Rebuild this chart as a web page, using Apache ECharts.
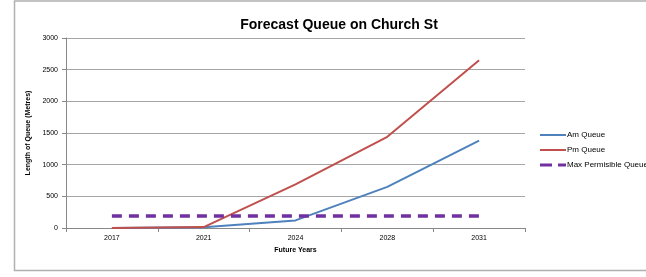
<!DOCTYPE html>
<html><head><meta charset="utf-8">
<script src="https://cdn.jsdelivr.net/npm/echarts@6/dist/echarts.min.js"></script>
<style>html,body{margin:0;padding:0;background:#fff}#c{width:646px;height:277px}</style>
</head><body><div id="c"></div>
<script>
const years = ['2017','2021','2024','2028','2031'];
const amQueue = [0, 10, 120, 650, 1380];
const pmQueue = [0, 15, 690, 1440, 2650];
const maxQueue = [190, 190, 190, 190, 190];
const yTicks = [0, 500, 1000, 1500, 2000, 2500, 3000];

const chart = echarts.init(document.getElementById('c'), null, {renderer:'canvas'});
const font = '"Liberation Sans", Arial, sans-serif';
chart.setOption({
  animation:false,
  title:{text:'Forecast Queue on Church St', left:334, top:13, textAlign:'center',
    textStyle:{fontFamily:font, fontSize:14, fontWeight:'bold', color:'#000'}},
  graphic:[
    {type:'polyline', shape:{points:[[646,1],[14.5,1],[14.5,270.5],[646,270.5]]}, style:{stroke:'#b0b0b0', lineWidth:1.5, fill:null}}
  ],
  grid:{left:66, right:121, top:38, bottom:49},
  legend:{orient:'vertical', left:535, top:126, itemGap:7, itemWidth:26, itemHeight:10,
    textStyle:{fontFamily:font, fontSize:8, color:'#000', padding:[0,0,0,-4]},
    data:[
      {name:'Am Queue', icon:'path://M0,4 L26,4 L26,6 L0,6 Z'},
      {name:'Pm Queue', icon:'path://M0,4 L26,4 L26,6 L0,6 Z'},
      {name:'Max Permisible Queue', icon:'path://M0,3.5 L12,3.5 L12,6.5 L0,6.5 Z M18,3.5 L26,3.5 L26,6.5 L18,6.5 Z'}
    ]},
  xAxis:{type:'category', data:years, boundaryGap:true,
    name:'Future Years', nameLocation:'middle', nameGap:18,
    nameTextStyle:{fontFamily:font, fontSize:7, fontWeight:'bold', color:'#000'},
    axisLine:{lineStyle:{color:'#888', width:1}},
    axisTick:{show:true, length:4, lineStyle:{color:'#888'}},
    axisLabel:{fontFamily:font, fontSize:7, color:'#000', margin:7}},
  yAxis:{type:'value', min:0, max:3000, interval:500,
    name:'Length of Queue (Metres)', nameLocation:'middle', nameGap:31, nameRotate:90,
    nameTextStyle:{fontFamily:font, fontSize:7, fontWeight:'bold', color:'#000'},
    axisLine:{show:true, lineStyle:{color:'#888', width:1}},
    axisTick:{show:true, length:4, lineStyle:{color:'#888'}},
    splitLine:{lineStyle:{color:'#a6a6a6', width:1}},
    axisLabel:{fontFamily:font, fontSize:7, color:'#000', margin:8,
      formatter:v=> yTicks.includes(v) ? String(v) : ''}},
  series:[
    {name:'Am Queue', type:'line', data:amQueue, symbol:'none', color:'#4F81BD', lineStyle:{width:2, color:'#4F81BD'}},
    {name:'Pm Queue', type:'line', data:pmQueue, symbol:'none', color:'#C0504D', lineStyle:{width:2, color:'#C0504D'}},
    {name:'Max Permisible Queue', type:'line', data:maxQueue, symbol:'none', color:'#7030A0', lineStyle:{width:3.5, color:'#7030A0', type:[10,7]}}
  ]
});
</script></body></html>
